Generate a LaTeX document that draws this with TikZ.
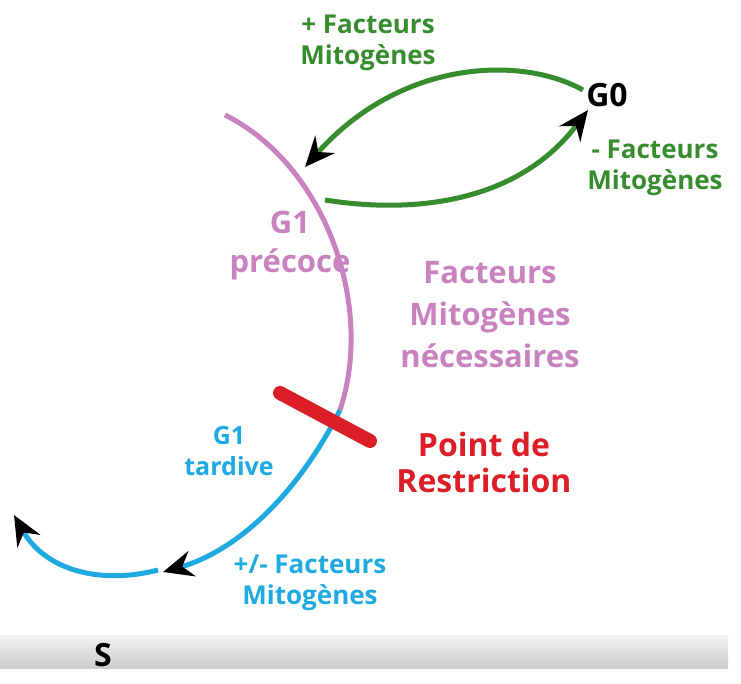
\documentclass[tikz,border=0pt]{standalone}
\usepackage{fontspec}
\setmainfont{Open Sans}
\usetikzlibrary{arrows.meta}
\definecolor{gr}{RGB}{55,140,45}
\definecolor{pk}{RGB}{200,130,190}
\definecolor{bl}{RGB}{30,170,225}
\definecolor{rd}{RGB}{220,30,40}
\begin{document}
\begin{tikzpicture}[x=1pt,y=-1pt,
  lab/.style={font=\bfseries\fontsize{26}{31}\selectfont,align=center,inner sep=0},
  tip/.style={-{Stealth[length=30pt,width=26pt,inset=10pt,black]}},
  ln/.style={line width=5pt}]
\useasboundingbox (0,0) rectangle (741,683);
\fill[white] (0,0) rectangle (741,683);
\shade[top color=gray!10,bottom color=gray!40] (0,635) rectangle (728,668);
\node[lab,font=\bfseries\fontsize{32}{36}\selectfont] (s) at (103,655) {S};
\coordinate (p0) at (225,115);
\coordinate (p1) at (340,410);
\coordinate (b1) at (163,572);
\coordinate (b2) at (14,515);
\node[lab,font=\bfseries\fontsize{32}{36}\selectfont] (g0) at (607,95) {G0};
\coordinate (ga) at (583,90);
\coordinate (gb) at (305,167);
\coordinate (gc) at (325,200);
\coordinate (gd) at (588,110);
\draw[pk,ln] (p0) .. controls (325,165) and (375,305) .. (p1);
\draw[bl,ln,tip] (p1) .. controls (300,490) and (240,550) .. (b1);
\draw[bl,ln,tip] (158,570) .. controls (100,585) and (45,570) .. (b2);
\draw[gr,ln,tip] (ga) .. controls (520,55) and (400,60) .. (gb);
\draw[gr,ln,tip] (gc) .. controls (420,215) and (520,200) .. (gd);
\draw[rd,line width=14pt,line cap=round] (280,393) -- (370,441);
\node[lab,gr] (t1) at (368,43) {+ Facteurs\\Mitogènes};
\node[lab,gr] (t2) at (655,168) {- Facteurs\\Mitogènes};
\node[lab,pk,font=\bfseries\fontsize{31}{39}\selectfont] (t3) at (290,245) {G1\\précoce};
\node[lab,pk,font=\bfseries\fontsize{31}{42}\selectfont] (t4) at (490,315) {Facteurs\\Mitogènes\\nécessaires};
\node[lab,bl,font=\bfseries\fontsize{25}{31}\selectfont] (t5) at (229,451) {G1\\tardive};
\node[lab,rd,font=\bfseries\fontsize{32}{36}\selectfont] (t6) at (484,462) {Point de\\Restriction};
\node[lab,bl] (t7) at (310,583) {+/- Facteurs\\Mitogènes};
\end{tikzpicture}
\end{document}
